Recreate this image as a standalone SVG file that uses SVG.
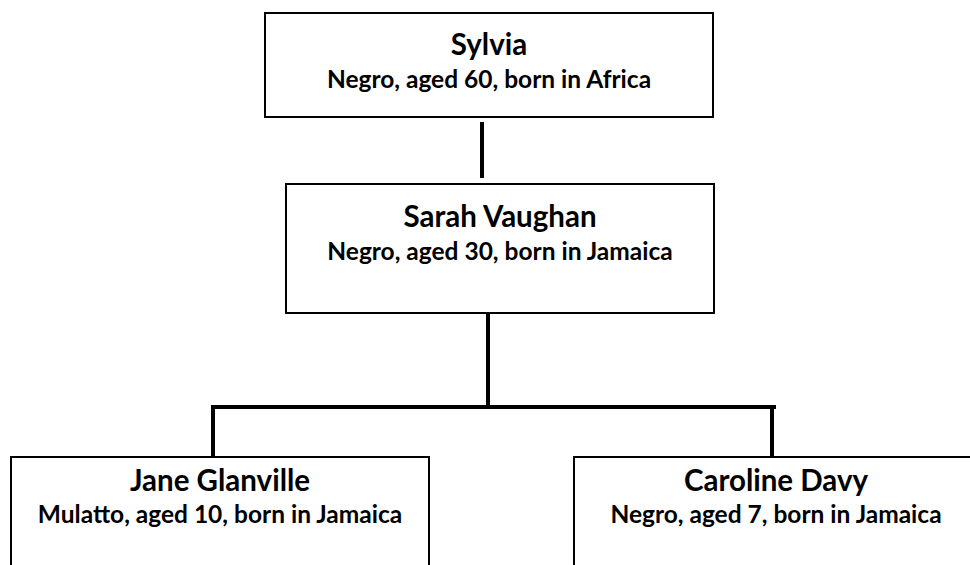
<svg xmlns="http://www.w3.org/2000/svg" width="970" height="565" viewBox="0 0 970 565">
<style>
.box{fill:#fff;stroke:#000;stroke-width:2}
.t{font-family:Lato,"Open Sans","Liberation Sans",sans-serif;font-weight:bold;text-anchor:middle;fill:#000}
.h{font-size:29.5px}
.s{font-size:24.5px}
.c{stroke:#000;stroke-width:4;fill:none}
</style>
<rect width="970" height="565" fill="#fff"/>
<g id="connectors">
<line class="c" x1="482" y1="122" x2="482" y2="178"/>
<line class="c" x1="488" y1="313" x2="488" y2="407"/>
<polyline class="c" points="213,460 213,407 776,407"/>
<line class="c" x1="772" y1="407" x2="772" y2="457"/>
</g>
<g id="sylvia">
<rect class="box" x="265" y="13" width="448" height="104"/>
<text class="t h" x="489" y="55">Sylvia</text>
<text class="t s" x="489" y="88">Negro, aged 60, born in Africa</text>
</g>
<g id="sarah">
<rect class="box" x="286" y="184" width="428" height="129"/>
<text class="t h" x="500" y="227">Sarah Vaughan</text>
<text class="t s" x="500" y="260">Negro, aged 30, born in Jamaica</text>
</g>
<g id="jane">
<rect class="box" x="11" y="457" width="418" height="120"/>
<text class="t h" x="220" y="491">Jane Glanville</text>
<text class="t s" x="220" y="523">Mulatto, aged 10, born in Jamaica</text>
</g>
<g id="caroline">
<rect class="box" x="574" y="457" width="404" height="120"/>
<text class="t h" x="776" y="491">Caroline Davy</text>
<text class="t s" x="776" y="523">Negro, aged 7, born in Jamaica</text>
</g>
</svg>
